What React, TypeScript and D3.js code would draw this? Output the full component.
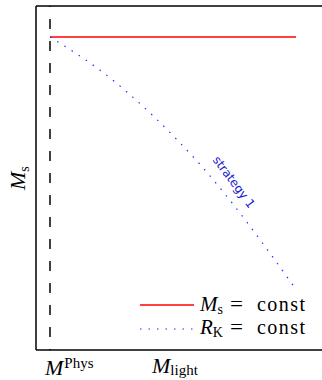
import React from "react";
import * as d3 from "d3";

// strategy 1 curve (R_K = const)
const mLight = [0, 0.092, 0.206, 0.314, 0.419, 0.516, 0.613, 0.74, 0.873, 0.995];
const rKConst = [1, 0.943, 0.866, 0.78, 0.686, 0.591, 0.489, 0.339, 0.167, 0.001];
// M_s = const line
const msX = [0, 1];
const msY = [1, 1];
const mPhys = 0;

const W = 322;
const H = 380;
const serif = "'Liberation Serif', 'DejaVu Serif', serif";

const App = () => {
  const x = d3.scaleLinear().domain([-14 / 246, 272 / 246]).range([36, 322]);
  const y = d3.scaleLinear().domain([-62 / 251, 282 / 251]).range([350, 6]);

  const line = d3
    .line<[number, number]>()
    .x((d) => x(d[0]))
    .y((d) => y(d[1]))
    .curve(d3.curveMonotoneX);

  const strat = mLight.map((v, i) => [v, rKConst[i]] as [number, number]);
  const ms = msX.map((v, i) => [v, msY[i]] as [number, number]);

  const [y0, y1] = y.range();
  const lx = 234;
  const ly = 182;

  // legend entry text: italic symbol, upright subscript, "= const"
  const legendText = (sym: string, sub: string, ty: number) => (
    <g fontFamily={serif} fontSize={20}>
      <text x={200} y={ty}>
        <tspan fontStyle="italic" fontSize={21}>{sym}</tspan>
        <tspan fontSize={14} dy={3}>{sub}</tspan>
      </text>
      <text x={230} y={ty} textLength={13} lengthAdjust="spacingAndGlyphs">=</text>
      <text x={257} y={ty} textLength={48}>const</text>
    </g>
  );

  return (
    <svg
      width={W}
      height={H}
      style={{ position: "absolute", left: 0, top: 0, background: "#fff" }}
    >
      {/* frame */}
      <line x1={36} x2={36} y1={6} y2={350} stroke="#000" strokeWidth={1.5} />
      <line x1={36} x2={W} y1={6} y2={6} stroke="#000" strokeWidth={1.5} />
      <line x1={36} x2={W} y1={350} y2={350} stroke="#000" strokeWidth={1.5} />

      {/* M^Phys marker */}
      <line
        x1={x(mPhys)}
        x2={x(mPhys)}
        y1={y1}
        y2={y0}
        stroke="#000"
        strokeWidth={1.5}
        strokeDasharray="10,12"
        strokeDashoffset={-13}
      />

      <path d={line(ms)!} fill="none" stroke="#ff0000" strokeWidth={1.5} />
      <path
        d={line(strat)!}
        fill="none"
        stroke="#2a2aff"
        strokeWidth={1.2}
        strokeDasharray="1.5,7"
      />

      <text
        transform={`translate(${lx},${ly}) rotate(53)`}
        textAnchor="middle"
        dy="0.35em"
        fontFamily="'DejaVu Sans', sans-serif"
        fontSize={12}
        fill="#1a1ad0"
      >
        strategy 1
      </text>

      {/* legend */}
      <line x1={140} x2={194} y1={305} y2={305} stroke="#ff0000" strokeWidth={1.5} />
      <line
        x1={140}
        x2={194}
        y1={329}
        y2={329}
        stroke="#2a2aff"
        strokeWidth={1.2}
        strokeDasharray="1.5,7"
      />
      {legendText("M", "s", 311)}
      {legendText("R", "K", 334)}

      {/* axis labels */}
      <text x={45} y={375} fontFamily={serif} fontSize={22}>
        <tspan fontStyle="italic">M</tspan>
        <tspan fontSize={15} dy={-7} dx={1}>Phys</tspan>
      </text>
      <text x={152} y={373} fontFamily={serif} fontSize={22}>
        <tspan fontStyle="italic">M</tspan>
        <tspan fontSize={15} dy={2}>light</tspan>
      </text>
      <text
        transform="translate(25,190) rotate(-90)"
        fontFamily={serif}
        fontSize={22}
      >
        <tspan fontStyle="italic">M</tspan>
        <tspan fontSize={14} dy={4}>s</tspan>
      </text>
    </svg>
  );
};

export default App;
